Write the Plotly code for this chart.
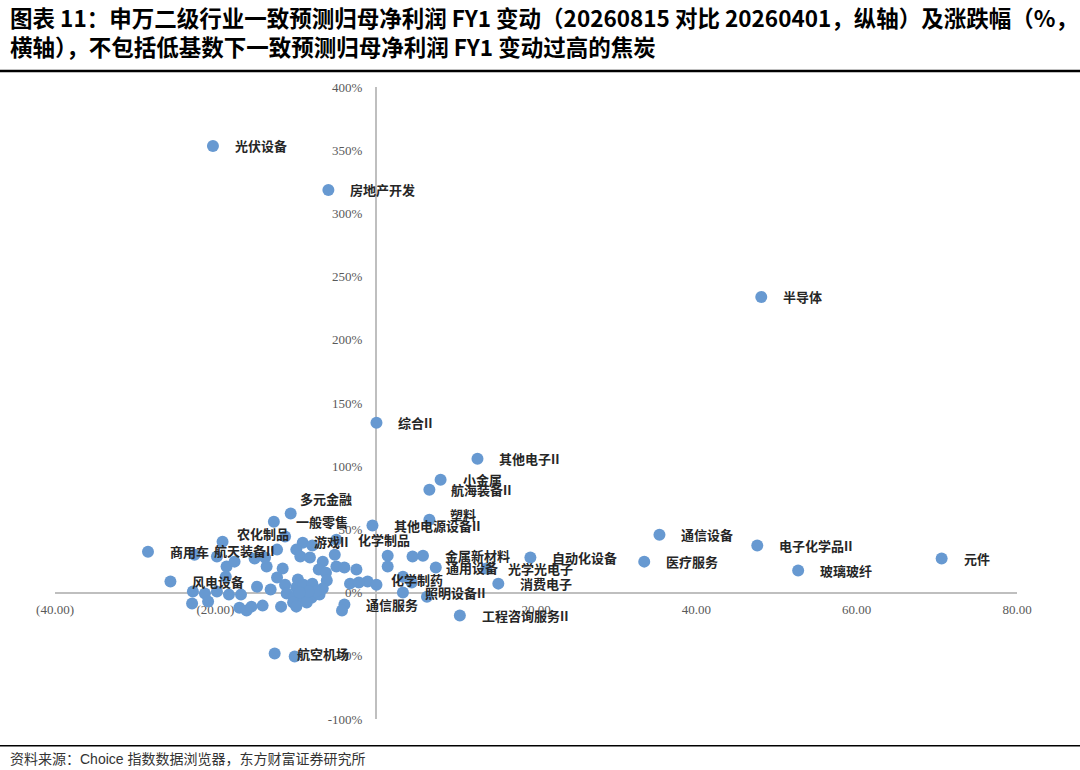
import plotly.graph_objects as go

# 有标注的申万二级行业：横轴为涨跌幅(%)，纵轴为一致预测归母净利润FY1变动(%)
labeled_names = [
    "光伏设备", "房地产开发", "半导体", "综合II", "其他电子II", "小金属",
    "航海装备II", "塑料", "其他电源设备II", "多元金融", "一般零售", "农化制品",
    "商用车", "航天装备II", "风电设备", "游戏II", "化学制品", "金属新材料",
    "通用设备", "光学光电子", "自动化设备", "消费电子", "化学制药", "照明设备II",
    "通信服务", "工程咨询服务II", "通信设备", "医疗服务", "电子化学品II",
    "玻璃玻纤", "元件", "航空机场",
]
labeled_x = [
    -20.3, -5.9, 48.1, 0.1, 12.7, 8.1,
    6.7, 6.7, -0.4, -10.6, -12.7, -19.1,
    -28.4, -22.6, -25.6, -9.1, -4.9, 5.9,
    7.5, 13.8, 19.3, 15.3, -1.0, 3.4,
    -3.9, 10.5, 35.4, 33.5, 47.6,
    52.7, 70.6, -12.6,
]
labeled_y = [
    353.4, 318.6, 233.9, 134.4, 105.9, 89.3,
    81.4, 57.7, 53.0, 62.5, 56.1, 40.3,
    32.4, 30.0, 8.7, 39.5, 41.9, 29.2,
    19.8, 19.0, 27.7, 7.1, 8.7, 0.0,
    -9.5, -18.2, 45.8, 24.5, 37.2,
    17.4, 26.9, -48.2,
]

# 未标注的行业
other_x = [
    -22.8, -21.3, -19.8, -18.3, -16.8, -22.9, -20.9, -17.0, -16.1, -14.1,
    -15.5, -19.8, -18.6, -17.6, -15.1, -13.6, -18.7, -13.8, -11.6, -12.3,
    -11.3, -14.8, -12.3, -13.1, -11.3, -9.9, -9.7, -9.0, -7.9, -11.1,
    -10.2, -9.1, -8.0, -7.0, -11.8, -10.3, -9.9, -8.6, -9.9, -7.9,
    -9.4, -8.2, -6.6, -7.1, -6.2, -5.1, -4.9, -3.9, -2.4, -6.1,
    -6.6, -7.5, -3.2, -2.1, 0.1, -4.2, 1.5, 1.5, 4.6, 3.4,
    4.5, 6.4, -10.1, -8.4, -9.5,
]
other_y = [
    0.8, -0.8, 0.8, -1.6, -1.6, -8.7, -7.1, -11.9, -14.2, -10.3,
    -11.1, 28.5, 20.6, 24.5, 26.9, 20.6, 12.6, 27.7, 19.0, 34.0,
    44.3, 4.7, 11.9, 2.4, 6.3, 4.0, 10.3, 6.3, 7.1, -0.8,
    -4.0, -4.0, -4.0, -1.6, -11.1, -7.9, -11.1, -7.9, 34.0, 37.2,
    28.5, 27.7, 24.5, 18.2, 15.8, 30.0, 20.6, 19.8, 18.2, 9.5,
    3.2, 0.8, 7.1, 7.9, 6.3, -14.2, 29.2, 20.6, 28.5, 12.6,
    7.9, -3.2, -50.6, 0.8, 0.0,
]

x_ticks = [-40, -20, 0, 20, 40, 60, 80]
x_tick_text = ["(40.00)", "(20.00)", "", "20.00", "40.00", "60.00", "80.00"]
y_ticks = [-100, -50, 0, 50, 100, 150, 200, 250, 300, 350, 400]

title = ("图表 11：申万二级行业一致预测归母净利润 FY1 变动（20260815 对比 20260401，纵轴）及涨跌幅（%，"
         "<br>横轴），不包括低基数下一致预测归母净利润 FY1 变动过高的焦炭")
source = "资料来源：Choice 指数数据浏览器，东方财富证券研究所"

# 标签相对点的偏移（像素），默认在点右侧
label_shift = {
    "多元金融": (7, -15),
    "农化制品": (12, -8),
    "塑料": (19, -5),
    "游戏II": (9, -1),
    "通用设备": (8, 0),
    "航天装备II": (18, -4),
    "化学制药": (21, -2),
}

BLUE = "#6799D1"
CJK = "Noto Sans CJK SC"
SERIF = "Liberation Serif"

x_range = [-40, 80]
y_range = [-100, 400]

fig = go.Figure()
fig.add_trace(go.Scatter(
    x=labeled_x + other_x,
    y=labeled_y + other_y,
    mode="markers",
    marker=dict(size=12, color=BLUE, line=dict(width=0)),
    hoverinfo="x+y",
    showlegend=False,
))

for name, x, y in zip(labeled_names, labeled_x, labeled_y):
    dx, dy = label_shift.get(name, (20, 0))
    fig.add_annotation(
        x=x, y=y, text=name, showarrow=False,
        xanchor="left", yanchor="middle", xshift=dx, yshift=-dy,
        font=dict(family=CJK, size=13, color="#262626", weight="bold"),
    )

fig.update_xaxes(
    range=x_range, tickvals=x_ticks, ticktext=x_tick_text,
    showgrid=False, zeroline=False, showline=True, linecolor="#BFBFBF", linewidth=1.5,
    anchor="free", position=(0 - y_range[0]) / (y_range[1] - y_range[0]),
    ticks="", ticklabelstandoff=5, layer="below traces",
    tickfont=dict(family=SERIF, size=13, color="#595959"),
)
fig.update_yaxes(
    range=y_range, tickvals=y_ticks, ticktext=[f"{v}%" for v in y_ticks],
    showgrid=False, zeroline=False, showline=True, linecolor="#BFBFBF", linewidth=1.5,
    anchor="free", position=(0 - x_range[0]) / (x_range[1] - x_range[0]),
    ticks="", ticklabelstandoff=10, layer="below traces",
    tickfont=dict(family=SERIF, size=13, color="#595959"),
)

fig.add_annotation(
    xref="paper", yref="paper", x=-0.049, y=1.139, xanchor="left", yanchor="top",
    text=title, showarrow=False, align="left",
    font=dict(family=CJK, size=22.5, color="#000000", weight="bold"),
)
fig.add_annotation(
    xref="paper", yref="paper", x=-0.049, y=-0.048, xanchor="left", yanchor="top",
    text=source, showarrow=False, align="left",
    font=dict(family="Liberation Sans, " + CJK, size=14, color="#333333"),
)
fig.add_shape(type="line", xref="paper", yref="paper", x0=-0.06, x1=1.07, y0=1.0255, y1=1.0255,
              line=dict(color="#000000", width=2.5))
fig.add_shape(type="line", xref="paper", yref="paper", x0=-0.06, x1=1.07, y0=-0.0425, y1=-0.0425,
              line=dict(color="#000000", width=1.5))

fig.update_layout(
    width=1080, height=770,
    margin=dict(l=55, r=63, t=87, b=51),
    plot_bgcolor="white", paper_bgcolor="white",
)

fig.write_html("out.html", config={"displayModeBar": False},
               post_script="document.body.style.margin='0';")
